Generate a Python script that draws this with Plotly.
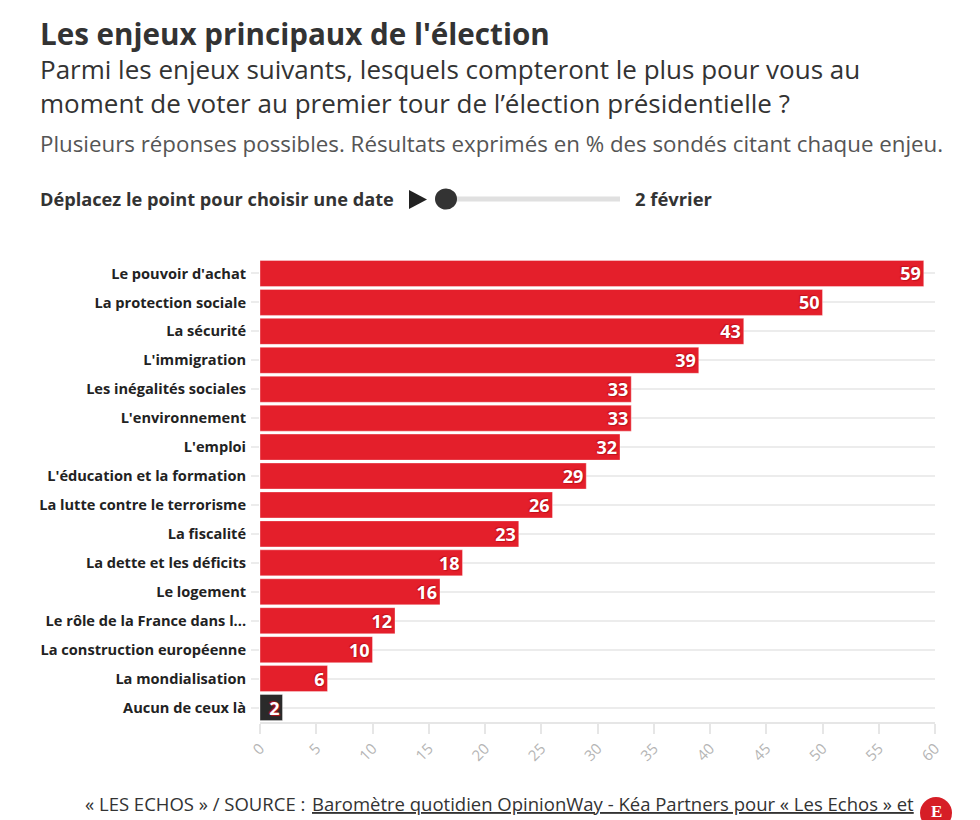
import plotly.graph_objects as go

categories = ["Le pouvoir d'achat", "La protection sociale", "La sécurité", "L'immigration",
              "Les inégalités sociales", "L'environnement", "L'emploi", "L'éducation et la formation",
              "La lutte contre le terrorisme", "La fiscalité", "La dette et les déficits", "Le logement",
              "Le rôle de la France dans l...", "La construction européenne", "La mondialisation",
              "Aucun de ceux là"]
values = [59, 50, 43, 39, 33, 33, 32, 29, 26, 23, 18, 16, 12, 10, 6, 2]
x_ticks = [0, 5, 10, 15, 20, 25, 30, 35, 40, 45, 50, 55, 60]

RED = "#e41f2b"
DARK = "#2a2a2a"
FONT = "Open Sans"
OFF = 8  # page body margin
W, H = 972, 812
L, R, T, B = 252, 45, 251, 98
PW, PH = W - L - R, H - T - B

colors = [RED] * (len(values) - 1) + [DARK]

fig = go.Figure()
fig.add_trace(go.Bar(
    x=values, y=categories, orientation="h",
    marker=dict(color=colors, line=dict(color="rgba(255,255,255,0.35)", width=1)),
    text=[str(v) for v in values],
    textposition="inside", insidetextanchor="end", textangle=0, constraintext="none",
    textfont=dict(family=FONT, size=18, color="white", weight="bold",
                  shadow="1px 1px 1px rgba(190,15,25,0.9), -1px -1px 1px rgba(190,15,25,0.9)"),
    cliponaxis=False, hoverinfo="skip",
))

fig.update_layout(
    width=W, height=H,
    margin=dict(l=L, r=R, t=T, b=B, pad=0),
    paper_bgcolor="white", plot_bgcolor="white",
    bargap=0.1, showlegend=False,
    font=dict(family=FONT, color="#333"),
    xaxis=dict(range=[0, 60], tickvals=x_ticks, ticktext=[str(t) for t in x_ticks],
               tickangle=-45, tickfont=dict(family=FONT, size=15, color="#b5b5b5"),
               showgrid=False, zeroline=False, showline=True, linecolor="#e6e6e6", linewidth=2,
               ticks="outside", ticklen=10, tickcolor="#e6e6e6", tickwidth=2, fixedrange=True),
    yaxis=dict(autorange="reversed", showgrid=True, gridcolor="#ececec", gridwidth=2,
               ticks="outside", ticklen=8, tickcolor="#ececec", tickwidth=2,
               tickfont=dict(family=FONT, size=14.6, color="#222", weight="bold"),
               ticklabelstandoff=2, fixedrange=True),
)

def px(xs):
    return (xs - OFF - L) / PW

def py(ys):
    return (H - B - (ys - OFF)) / PH

ann = []
ann.append(dict(text="Les enjeux principaux de l'élection", x=px(38), y=py(34), xanchor="left", yanchor="middle",
                font=dict(size=29.6, color="#333", weight="bold")))
ann.append(dict(text="Parmi les enjeux suivants, lesquels compteront le plus pour vous au<br>"
                     "moment de voter au premier tour de l’élection présidentielle ?", x=px(38), y=py(85.5),
                xanchor="left", yanchor="middle", align="left", font=dict(size=26, color="#333")))
ann.append(dict(text="Plusieurs réponses possibles. Résultats exprimés en % des sondés citant chaque enjeu.", x=px(38), y=py(143),
                xanchor="left", yanchor="middle", font=dict(size=22.3, color="#555")))
ann.append(dict(text="Déplacez le point pour choisir une date", x=px(38), y=py(199),
                xanchor="left", yanchor="middle", font=dict(size=18.2, color="#333", weight="bold")))
ann.append(dict(text="2 février", x=px(633), y=py(198),
                xanchor="left", yanchor="middle", font=dict(size=18.4, color="#333", weight="bold")))
ann.append(dict(text="« LES ECHOS » / SOURCE :", x=px(307), y=py(803),
                xanchor="right", yanchor="middle", font=dict(size=18.5, color="#333")))
ann.append(dict(text="Baromètre quotidien OpinionWay - Kéa Partners pour « Les Echos » et", x=px(310), y=py(803),
                xanchor="left", yanchor="middle", font=dict(size=18.5, color="#333", lineposition="under")))
ann.append(dict(text="E", x=px(936), y=py(811), xanchor="center", yanchor="middle",
                font=dict(size=17, color="white", family="Liberation Serif", weight="bold")))
for a in ann:
    a.update(xref="paper", yref="paper", showarrow=False)
    if "family" not in a["font"]:
        a["font"]["family"] = FONT

shapes = [
    dict(type="line", x0=px(446), x1=px(620), y0=py(199), y1=py(199), line=dict(color="#e0e0e0", width=5)),
    dict(type="path", path="M %f %f L %f %f L %f %f Z" % (px(409), py(190), px(409), py(209), px(427), py(199.5)),
         fillcolor="#222", line=dict(width=0)),
    dict(type="circle", x0=px(435), x1=px(457), y0=py(188.5), y1=py(209.5), fillcolor="#333", line=dict(width=0)),
    dict(type="circle", x0=px(920), x1=px(952), y0=py(797), y1=py(829), fillcolor="#d61e26", line=dict(width=0)),
]
for s in shapes:
    s.update(xref="paper", yref="paper")

fig.update_layout(annotations=ann, shapes=shapes)
fig.write_html("out.html")
